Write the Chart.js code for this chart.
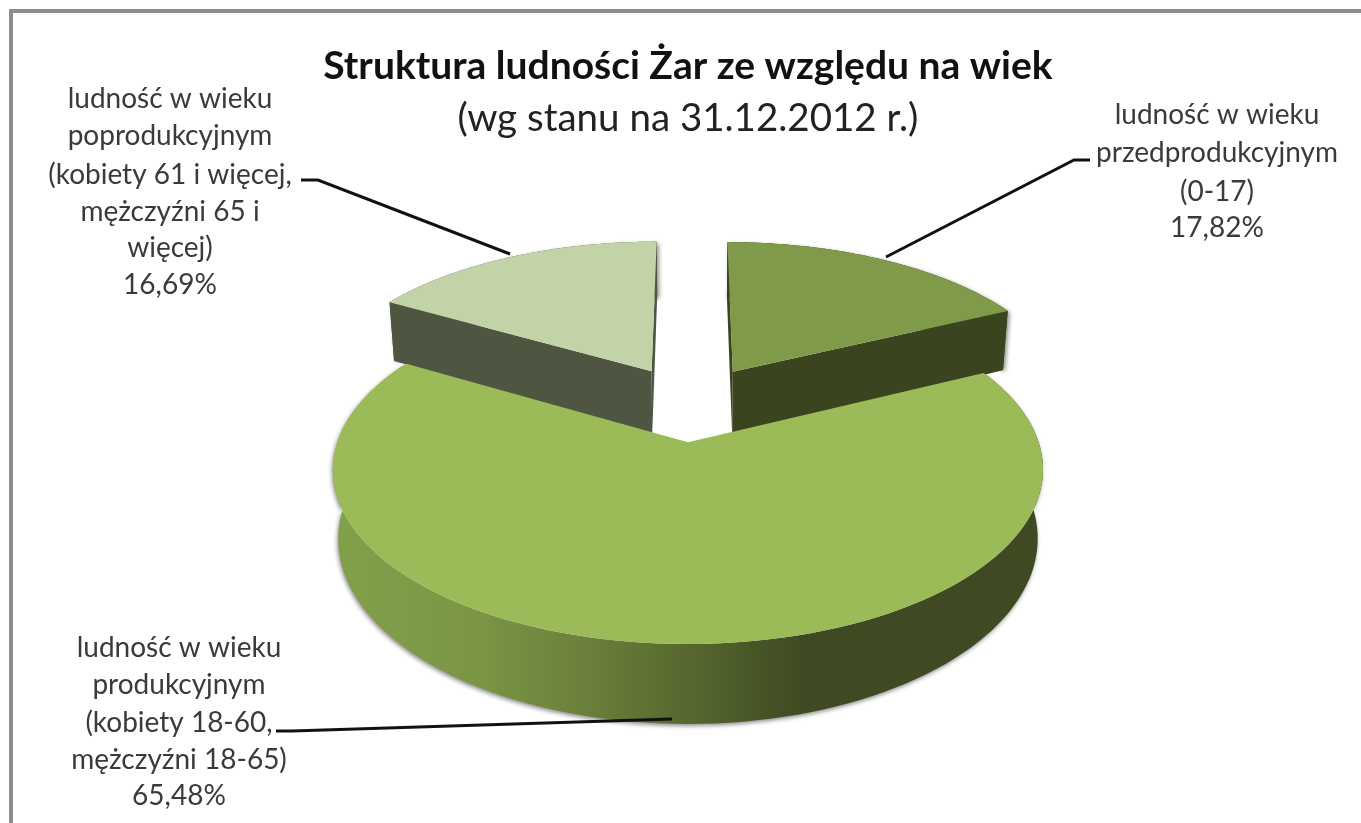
<!DOCTYPE html>
<html lang="pl">
<head>
<meta charset="utf-8">
<title>Struktura ludności Żar</title>
<script src="https://cdn.jsdelivr.net/npm/chart.js@4"></script>
<style>
    html, body { margin: 0; padding: 0; background: #fff; overflow: hidden; }
    #frame { position: absolute; left: 9px; top: 9px; width: 1352px; height: 814px; border-top: 4px solid #8c8c8c; border-left: 4px solid #8c8c8c; box-sizing: border-box; }
    #pieChart { position: absolute; left: 0; top: 0; filter: blur(0.5px); }
</style>
</head>
<body>
<div id="frame"></div>
<canvas id="pieChart" width="1361" height="823"></canvas>
<script>
// dane
const categories = ['przedprodukcyjny', 'produkcyjny', 'poprodukcyjny'];
const shares = [17.82, 65.48, 16.69];
const labelLines = [
    ['ludność w wieku', 'przedprodukcyjnym', '(0-17)'],
    ['ludność w wieku', 'produkcyjnym', '(kobiety 18-60,', 'mężczyźni 18-65)'],
    ['ludność w wieku', 'poprodukcyjnym', '(kobiety 61 i więcej,', 'mężczyźni 65 i', 'więcej)']
];
const titleText = 'Struktura ludności Żar ze względu na wiek';
const subtitleText = '(wg stanu na 31.12.2012 r.)';

// kolory
const topColors = ['#7f9a48', '#9bbb59', '#c3d3a8'];
const wallColors = ['#3a441e', '#3f4a22', '#4e5540'];

// rzut perspektywiczny
const view = { cx: 691, cy: 403, a: 338, b: 158, p: 0.151, depth: 65, shrink: 0.985 };

// polozenie opisow
const labelLayout = [
    { x: 1217, ys: [115, 153, 192, 228] },
    { x: 179, ys: [648, 685, 723, 760, 796] },
    { x: 170, ys: [99, 136, 175, 212, 248, 285] }
];
const leaderLines = [
    [[886, 257], [1074, 160], [1090, 160]],
    [[672, 719], [292, 731], [276, 731]],
    [[510, 254], [318, 180], [301, 180]]
];

function project(u, v, low) {
    const w = 1 / (1 - view.p * v);
    const k = low ? view.shrink : 1;
    return {
        x: view.cx + view.a * u * w * k,
        y: view.cy + view.b * v * w + (low ? view.depth * w : 0)
    };
}

function slicePoints(arc, low) {
    const mid = (arc.startAngle + arc.endAngle) / 2;
    const off = arc.options.offset / arc.outerRadius;
    const ox = Math.cos(mid) * off;
    const oy = Math.sin(mid) * off;
    const rim = [];
    const steps = 120;
    for (let i = 0; i <= steps; i++) {
        const a = arc.startAngle + (arc.endAngle - arc.startAngle) * i / steps;
        rim.push(project(ox + Math.cos(a), oy + Math.sin(a), low));
    }
    return { apex: project(ox, oy, low), rim: rim };
}

function fillPath(ctx, points, fill) {
    ctx.beginPath();
    points.forEach((pt, i) => i ? ctx.lineTo(pt.x, pt.y) : ctx.moveTo(pt.x, pt.y));
    ctx.closePath();
    ctx.fillStyle = fill;
    ctx.fill();
}

function mainWallGradient(ctx) {
    const g = ctx.createLinearGradient(335, 0, 1040, 0);
    g.addColorStop(0, '#82a04a');
    g.addColorStop(0.2, '#7a9645');
    g.addColorStop(0.36, '#6a7f3b');
    g.addColorStop(0.5, '#56682f');
    g.addColorStop(0.66, '#3f4a22');
    g.addColorStop(1, '#3f4a22');
    return g;
}

function drawSlice(ctx, arc, index) {
    const top = slicePoints(arc, false);
    const low = slicePoints(arc, true);
    const last = top.rim.length - 1;

    ctx.save();
    ctx.shadowColor = 'rgba(0,0,0,0.45)';
    ctx.shadowBlur = 4;
    ctx.shadowOffsetX = index === 1 ? -1 : 2;
    ctx.shadowOffsetY = 2;
    const wall = top.rim.concat(low.rim.slice().reverse());
    fillPath(ctx, wall, index === 1 ? mainWallGradient(ctx) : wallColors[index]);
    ctx.shadowColor = 'transparent';
    if (index !== 1) {
        fillPath(ctx, [top.apex, top.rim[0], low.rim[0], low.apex], wallColors[index]);
        fillPath(ctx, [top.apex, top.rim[last], low.rim[last], low.apex], wallColors[index]);
    }
    ctx.restore();

    fillPath(ctx, [top.apex].concat(top.rim), topColors[index]);
}

function formatShare(v) {
    return v.toFixed(2).replace('.', ',') + '%';
}

const pie3d = {
    id: 'pie3d',
    // wycinki rysowane w rzucie, z katow policzonych przez Chart.js
    beforeDatasetDraw(chart, args) {
        const ctx = chart.ctx;
        const arcs = chart.getDatasetMeta(args.index).data;
        [2, 0, 1].forEach(i => drawSlice(ctx, arcs[i], i));
        return false;
    },
    afterDraw(chart) {
        const ctx = chart.ctx;
        ctx.save();
        ctx.strokeStyle = '#111';
        ctx.lineWidth = 3;
        leaderLines.forEach(line => {
            ctx.beginPath();
            line.forEach((pt, i) => i ? ctx.lineTo(pt[0], pt[1]) : ctx.moveTo(pt[0], pt[1]));
            ctx.stroke();
        });

        ctx.fillStyle = '#3a3a3a';
        ctx.font = '28px Lato';
        ctx.textAlign = 'center';
        ctx.textBaseline = 'middle';
        labelLines.forEach((lines, i) => {
            const rows = lines.concat(formatShare(shares[i]));
            rows.forEach((row, r) => ctx.fillText(row, labelLayout[i].x, labelLayout[i].ys[r]));
        });
        ctx.restore();
    }
};

new Chart(document.getElementById('pieChart'), {
    type: 'pie',
    data: {
        labels: categories,
        datasets: [{
            data: shares,
            backgroundColor: topColors,
            borderWidth: 0,
            offset: 48
        }]
    },
    options: {
        responsive: false,
        animation: false,
        radius: 200,
        rotation: 0,
        layout: { padding: { left: 15, top: 43 } },
        plugins: {
            legend: { display: false },
            tooltip: { enabled: false },
            title: {
                display: true,
                text: titleText,
                color: '#111',
                font: { family: 'Lato', size: 39, weight: 'bold' },
                padding: { top: 0, bottom: 6 }
            },
            subtitle: {
                display: true,
                text: subtitleText,
                color: '#222',
                font: { family: 'Lato', size: 38.5, weight: 'normal' },
                padding: 0
            }
        }
    },
    plugins: [pie3d]
});
</script>
</body>
</html>
